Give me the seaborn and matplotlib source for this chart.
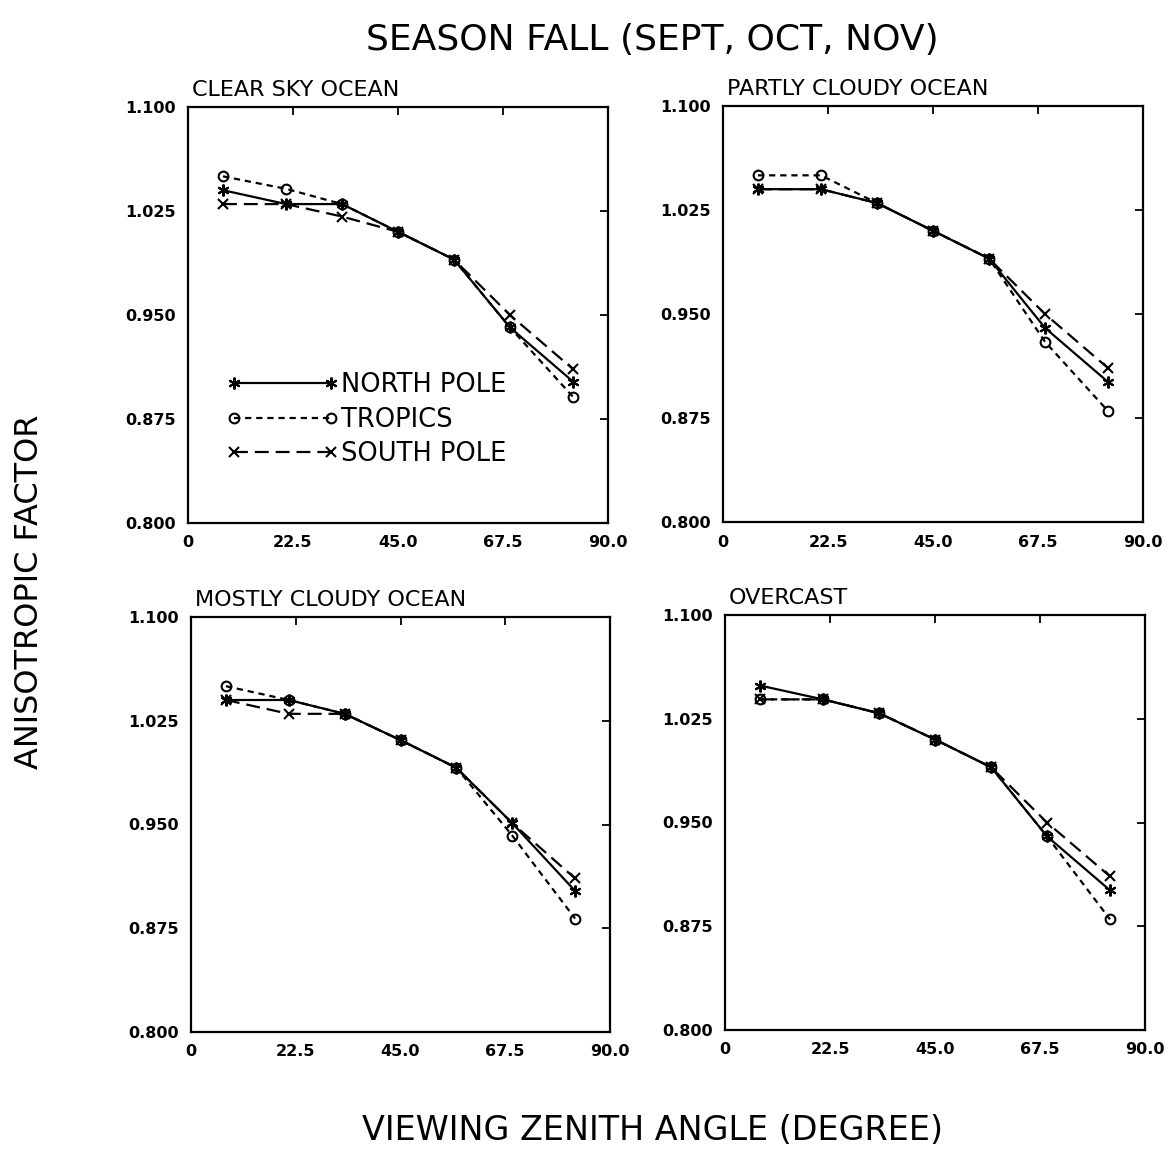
import matplotlib
matplotlib.use("Agg")
import matplotlib.pyplot as plt
from matplotlib.lines import Line2D
import seaborn as sns
import pandas as pd

# Viewing zenith angle bin centres (degrees)
zenith = [7.5, 21.0, 33.0, 45.0, 57.0, 69.0, 82.5]

panel_titles = ["CLEAR SKY OCEAN", "PARTLY CLOUDY OCEAN",
                "MOSTLY CLOUDY OCEAN", "OVERCAST"]
region_names = ["NORTH POLE", "TROPICS", "SOUTH POLE"]

# Anisotropic factors, one list per scene type and region
clear_north = [1.040, 1.030, 1.030, 1.010, 0.990, 0.941, 0.902]
clear_tropics = [1.050, 1.041, 1.030, 1.010, 0.990, 0.941, 0.891]
clear_south = [1.030, 1.030, 1.021, 1.010, 0.990, 0.950, 0.911]

partly_north = [1.040, 1.040, 1.030, 1.010, 0.990, 0.940, 0.901]
partly_tropics = [1.050, 1.050, 1.030, 1.010, 0.990, 0.930, 0.880]
partly_south = [1.040, 1.040, 1.030, 1.010, 0.990, 0.950, 0.911]

mostly_north = [1.040, 1.040, 1.030, 1.011, 0.991, 0.951, 0.902]
mostly_tropics = [1.050, 1.040, 1.030, 1.011, 0.991, 0.942, 0.882]
mostly_south = [1.040, 1.030, 1.030, 1.011, 0.991, 0.951, 0.911]

overcast_north = [1.049, 1.039, 1.029, 1.010, 0.990, 0.940, 0.901]
overcast_tropics = [1.039, 1.039, 1.029, 1.010, 0.990, 0.940, 0.880]
overcast_south = [1.039, 1.039, 1.029, 1.010, 0.990, 0.950, 0.911]

x_ticks = [0, 22.5, 45.0, 67.5, 90.0]
x_tick_labels = ["0", "22.5", "45.0", "67.5", "90.0"]
y_ticks = [0.800, 0.875, 0.950, 1.025, 1.100]
y_tick_labels = ["0.800", "0.875", "0.950", "1.025", "1.100"]

panels = [
    (clear_north, clear_tropics, clear_south),
    (partly_north, partly_tropics, partly_south),
    (mostly_north, mostly_tropics, mostly_south),
    (overcast_north, overcast_tropics, overcast_south),
]

sns.set_style("white")
plt.rcParams["font.family"] = ["DejaVu Sans"]
plt.rcParams["lines.scale_dashes"] = False
for key in ("text.color", "axes.labelcolor", "xtick.color", "ytick.color",
            "axes.edgecolor"):
    plt.rcParams[key] = "black"

styles = {
    "NORTH POLE": dict(linestyle="-", marker=(6, 2, 0), markersize=8.5,
                       markeredgewidth=1.5),
    "TROPICS": dict(linestyle=(0, (4.5, 3.5)), marker="o", markersize=7,
                    markerfacecolor="none", markeredgewidth=1.5),
    "SOUTH POLE": dict(linestyle=(0, (10, 5)), marker="x", markersize=6.5,
                       markeredgewidth=1.5),
}

fig = plt.figure(figsize=(11.74, 11.69), dpi=100)
W, H = 1174.0, 1169.0
# axes boxes in pixels: left, top, right, bottom
boxes = [(188, 107, 608, 523), (723, 106, 1143, 522),
         (191, 617, 610, 1032), (725, 615, 1145, 1030)]

for (l, t, r, b), title, series in zip(boxes, panel_titles, panels):
    ax = fig.add_axes([l / W, 1 - b / H, (r - l) / W, (b - t) / H])
    for name, vals in zip(region_names, series):
        df = pd.DataFrame({"zenith": zenith, "factor": vals})
        sns.lineplot(data=df, x="zenith", y="factor", ax=ax, color="black",
                     linewidth=1.6, errorbar=None, sort=True,
                     markeredgecolor="black", **styles[name])
    ax.set_xlim(0, 90)
    ax.set_ylim(0.8, 1.1)
    ax.set_xticks(x_ticks)
    ax.set_xticklabels(x_tick_labels)
    ax.set_yticks(y_ticks)
    ax.set_yticklabels(y_tick_labels)
    ax.set_xlabel("")
    ax.set_ylabel("")
    ax.tick_params(direction="in", length=6, width=1.3, top=True, right=True,
                   labelsize=11.5, pad=9)
    for lab in ax.get_xticklabels() + ax.get_yticklabels():
        lab.set_fontweight("bold")
    for sp in ax.spines.values():
        sp.set_linewidth(1.6)
        sp.set_color("black")
    ax.set_title(title, loc="left", fontsize=16, pad=8, x=0.01)

    if title == "CLEAR SKY OCEAN":
        handles = [Line2D([], [], color="black", linewidth=1.6,
                          markeredgecolor="black", **styles[n])
                   for n in region_names]
        ax.legend(handles, region_names, numpoints=2, frameon=False,
                  fontsize=18.5, handlelength=4.4, handletextpad=0.1,
                  labelspacing=0.33, borderpad=0, borderaxespad=0,
                  loc="center left", bbox_to_anchor=(0.09, 0.248))

fig.text(652 / W, 1 - 40 / H, "SEASON FALL (SEPT, OCT, NOV)",
         ha="center", va="center", fontsize=26)
fig.text(653 / W, 1 - 1130 / H, "VIEWING ZENITH ANGLE (DEGREE)",
         ha="center", va="center", fontsize=24)
fig.text(30 / W, 1 - 592 / H, "ANISOTROPIC FACTOR", rotation=90,
         ha="center", va="center", fontsize=23)

fig.savefig("out.png", dpi=100, facecolor="white")
